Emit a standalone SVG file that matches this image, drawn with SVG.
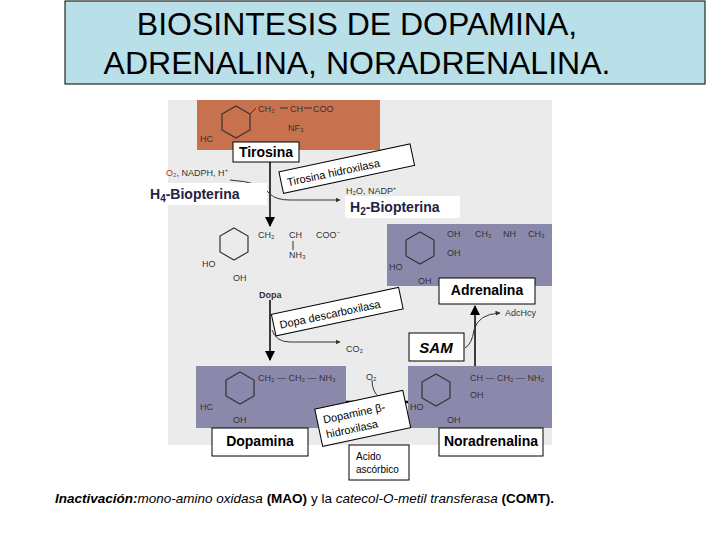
<svg xmlns="http://www.w3.org/2000/svg" width="720" height="540" viewBox="0 0 720 540">
<style>
.t{font-family:"Liberation Sans",Arial,sans-serif}
.lab{font-family:"Liberation Sans",Arial,sans-serif;font-weight:bold;font-size:14px}
.sm{font-family:"Liberation Sans",Arial,sans-serif;font-size:9px;fill:#333}
.ring{fill:none;stroke:#333;stroke-width:1.2}
.bx{fill:#fff;stroke:#000;stroke-width:1}
.ln{stroke:#333;stroke-width:1;fill:none}
</style>
<defs>
<marker id="ah" viewBox="0 0 10 10" refX="9" refY="5" markerWidth="7" markerHeight="7" orient="auto"><path d="M0,0L10,5L0,10z" fill="#000"/></marker>
<marker id="as" viewBox="0 0 10 10" refX="9" refY="5" markerWidth="5" markerHeight="5" orient="auto"><path d="M0,0L10,5L0,10z" fill="#333"/></marker>
<polygon id="hex" points="0,-16 14,-8 14,8 0,16 -14,8 -14,-8"/>
</defs>
<g id="title">
<rect x="65" y="1" width="640" height="83" fill="#b9dfe9" stroke="#000"/>
<text class="t" x="357" y="35" font-size="32" text-anchor="middle">BIOSINTESIS DE DOPAMINA,</text>
<text class="t" x="357" y="74" font-size="32" text-anchor="middle">ADRENALINA, NORADRENALINA.</text>
</g>
<rect x="168" y="100" width="384" height="345" fill="#ebebeb"/>
<g id="tirosina">
<rect x="197" y="100" width="183" height="50" fill="#c8714e"/>
<use href="#hex" x="236" y="122" class="ring"/>
<path class="ln" d="M250,114 L256,108 M280,108 L288,108 M304,108 L312,108"/>
<text class="sm" x="258" y="112">CH₂</text><text class="sm" x="290" y="112">CH</text><text class="sm" x="313" y="112">COO</text>
<text class="sm" x="288" y="131">NF₃</text>
<text class="sm" x="200" y="142">HC</text>
<rect class="bx" x="233" y="142" width="66" height="20"/>
<text class="lab" x="266" y="157" text-anchor="middle">Tirosina</text>
</g>
<g id="dopa">
<use href="#hex" x="234" y="244" class="ring"/>
<text class="sm" x="258" y="238">CH₂</text><text class="sm" x="289" y="238">CH</text><text class="sm" x="316" y="238" fill="#36a">COO⁻</text>
<path class="ln" d="M293,241 V250"/><text class="sm" x="289" y="258">NH₃</text>
<text class="sm" x="202" y="267">HO</text><text class="sm" x="233" y="281" fill="#a33">OH</text>
<text class="sm" x="259" y="298" font-weight="bold">Dopa</text>
</g>
<g id="adrenalina">
<rect x="387" y="224" width="165" height="62" fill="#8b89ab"/>
<use href="#hex" x="420" y="248" class="ring"/>
<text class="sm" x="447" y="237">OH</text><text class="sm" x="475" y="237">CH₂</text><text class="sm" x="503" y="237">NH</text><text class="sm" x="528" y="237" fill="#36a">CH₃</text>
<text class="sm" x="447" y="256">OH</text><text class="sm" x="389" y="270">HO</text><text class="sm" x="418" y="284">OH</text>
<rect class="bx" x="439" y="278" width="96" height="26"/>
<text class="lab" x="487" y="295" text-anchor="middle">Adrenalina</text>
</g>
<g id="dopamina">
<rect x="196" y="366" width="150" height="62" fill="#8b89ab"/>
<use href="#hex" x="240" y="388" class="ring"/>
<text class="sm" x="258" y="381">CH₂ — CH₂ — NH₃</text>
<text class="sm" x="200" y="410">HC</text><text class="sm" x="233" y="423">OH</text>
<rect class="bx" x="212" y="428" width="96" height="28"/>
<text class="lab" x="260" y="446" text-anchor="middle">Dopamina</text>
</g>
<g id="noradrenalina">
<rect x="408" y="366" width="144" height="62" fill="#8b89ab"/>
<use href="#hex" x="436" y="390" class="ring"/>
<text class="sm" x="470" y="381">CH — CH₂ — NH₂</text>
<text class="sm" x="470" y="398" fill="#a33">OH</text>
<text class="sm" x="410" y="410">HO</text><text class="sm" x="447" y="423">OH</text>
<rect class="bx" x="439" y="428" width="104" height="28"/>
<text class="lab" x="491" y="446" text-anchor="middle">Noradrenalina</text>
</g>
<g id="connectors">
<path d="M270,162 V226" stroke="#000" stroke-width="1.5" marker-end="url(#ah)"/>
<path class="ln" d="M230,180 Q262,182 270,194 Q276,200 290,200 H340" marker-end="url(#as)"/>
<path d="M270,300 V360" stroke="#000" stroke-width="1.5" marker-end="url(#ah)"/>
<path class="ln" d="M272,330 Q276,342 290,342 H340" marker-end="url(#as)"/>
<path d="M346,402 H408" stroke="#000" stroke-width="2.5"/>
<path class="ln" d="M372,380 Q372,392 380,398"/>
<path d="M475,366 V306" stroke="#000" stroke-width="1.5" marker-end="url(#ah)"/>
<path class="ln" d="M465,348 Q472,344 474,330 Q478,314 500,313" marker-end="url(#as)"/>
</g>
<g id="labels">
<text class="sm" x="166" y="176"><tspan fill="#a33">O₂</tspan>, NADPH, H⁺</text>
<rect fill="#fff" x="147" y="183" width="120" height="22"/>
<text class="lab" x="150" y="199" fill="#224">H<tspan font-size="10" dy="3">4</tspan><tspan dy="-3">-Biopterina</tspan></text>
<text class="sm" x="346" y="194">H₂O, NADP⁺</text>
<rect fill="#fff" x="345" y="196" width="115" height="22"/>
<text class="lab" x="350" y="212" fill="#224">H<tspan font-size="10" dy="3">2</tspan><tspan dy="-3">-Biopterina</tspan></text>
<g transform="rotate(-12 345 170)">
<rect class="bx" x="280" y="158" width="134" height="22"/>
<text class="t" x="286" y="174" font-size="11">Tirosina hidroxilasa</text>
</g>
<g transform="rotate(-12 340 310)">
<rect class="bx" x="272" y="300" width="130" height="22"/>
<text class="t" x="278" y="316" font-size="11">Dopa descarboxilasa</text>
</g>
<text class="sm" x="346" y="352" fill="#36a">CO₂</text>
<text class="sm" x="366" y="380" fill="#a33">O₂</text>
<g transform="rotate(-12 360 420)">
<rect class="bx" x="318" y="400" width="90" height="38"/>
<text class="t" x="324" y="416" font-size="11">Dopamine β-</text>
<text class="t" x="324" y="431" font-size="11">hidroxilasa</text>
</g>
<text class="sm" x="505" y="316">AdcHcy</text>
<rect class="bx" x="409" y="333" width="55" height="28"/>
<text class="t" x="436" y="353" font-size="15" font-weight="bold" font-style="italic" text-anchor="middle">SAM</text>
<rect class="bx" x="349" y="445" width="60" height="35"/>
<text class="t" x="356" y="460" font-size="10">Acido</text>
<text class="t" x="356" y="473" font-size="10">ascórbico</text>
<text class="t" x="55" y="503" font-size="13.5"><tspan font-weight="bold" font-style="italic">Inactivación:</tspan><tspan font-style="italic">mono-amino oxidasa</tspan> <tspan font-weight="bold">(MAO)</tspan> y la <tspan font-style="italic">catecol-O-metil transferasa</tspan> <tspan font-weight="bold">(COMT).</tspan></text>
</g>
</svg>
